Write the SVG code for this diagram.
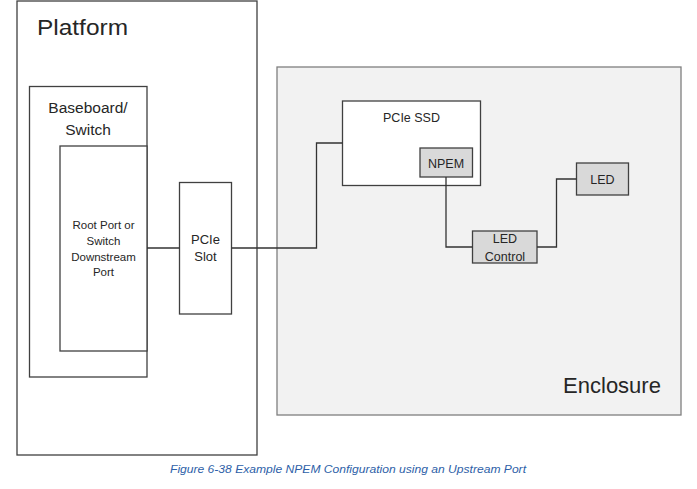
<svg xmlns="http://www.w3.org/2000/svg" width="697" height="489" viewBox="0 0 697 489">
<style>
text{font-family:"Liberation Sans",Arial,sans-serif;fill:#262626;text-anchor:middle}
.box{fill:#fff;stroke:#404040;stroke-width:1.3}
.gbox{fill:#d9d9d9;stroke:#404040;stroke-width:1.3}
.wire{fill:none;stroke:#333;stroke-width:1.3}
</style>
<rect width="697" height="489" fill="#fff"/>
<g id="platform">
<rect class="box" x="17" y="1" width="240" height="454"/>
<text x="37" y="35" font-size="22" style="text-anchor:start" textLength="91" lengthAdjust="spacingAndGlyphs">Platform</text>
</g>
<g id="baseboard">
<rect class="box" x="29.5" y="86.5" width="117.5" height="290.5"/>
<text x="88" y="113" font-size="15.5">Baseboard/</text>
<text x="88" y="135" font-size="15.5">Switch</text>
</g>
<g id="rootport">
<rect class="box" x="60" y="146" width="87" height="205"/>
<text x="103.5" y="229" font-size="11.5">Root Port or</text>
<text x="103.5" y="245" font-size="11.5">Switch</text>
<text x="103.5" y="261" font-size="11.5">Downstream</text>
<text x="103.5" y="276" font-size="11.5">Port</text>
</g>
<g id="pcieslot">
<rect class="box" x="179.5" y="182.5" width="52" height="131.5"/>
<text x="205.5" y="244" font-size="13">PCIe</text>
<text x="205.5" y="261" font-size="13">Slot</text>
</g>
<g id="enclosure">
<rect x="277" y="67" width="404" height="348" fill="#f2f2f2" stroke="#7f7f7f" stroke-width="1.3"/>
<text x="612" y="393" font-size="22">Enclosure</text>
</g>
<g id="pciessd">
<rect class="box" x="342.5" y="101" width="138" height="84.5"/>
<text x="411.5" y="121.5" font-size="12.5">PCIe SSD</text>
</g>
<g id="npem">
<rect class="gbox" x="420" y="148" width="52.5" height="29"/>
<text x="446" y="168" font-size="12.5">NPEM</text>
</g>
<g id="ledcontrol">
<rect class="gbox" x="472.5" y="231" width="64.5" height="32"/>
<text x="505" y="243" font-size="12.5">LED</text>
<text x="505" y="260.5" font-size="12.5">Control</text>
</g>
<g id="led">
<rect class="gbox" x="576.5" y="163" width="52" height="32"/>
<text x="602.5" y="184" font-size="12.5">LED</text>
</g>
<g id="connectors">
<path class="wire" d="M147 248H179.5"/>
<path class="wire" d="M231.5 248H316.5V143H342.5"/>
<path class="wire" d="M446 177V247H472.5"/>
<path class="wire" d="M537 247H556.5V179H576.5"/>
</g>
<text x="348" y="473" font-size="11.5" font-style="italic" style="fill:#2e5fa8" textLength="356" lengthAdjust="spacingAndGlyphs">Figure 6-38 Example NPEM Configuration using an Upstream Port</text>
</svg>
